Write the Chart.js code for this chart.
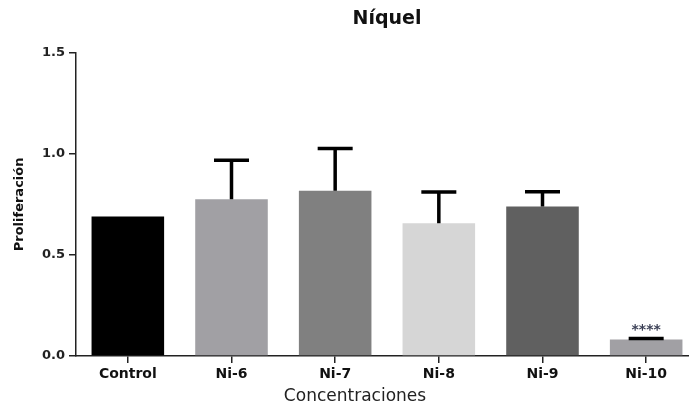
<!DOCTYPE html>
<html>
<head>
<meta charset="utf-8">
<script src="https://cdn.jsdelivr.net/npm/chart.js@4.4.0/dist/chart.umd.min.js"></script>
<style>
  html, body { margin: 0; padding: 0; background: #fff; overflow: hidden; }
  #wrap { width: 700px; height: 408px; }
</style>
</head>
<body>
<div id="wrap"><canvas id="chart"></canvas></div>
<script>
const categorias = ['Control', 'Ni-6', 'Ni-7', 'Ni-8', 'Ni-9', 'Ni-10'];
const proliferacion = [0.69, 0.775, 0.818, 0.657, 0.739, 0.082];
const errores = [0, 0.194, 0.209, 0.154, 0.074, 0.004];
const significancia = ['', '', '', '', '', '****'];
const colores = ['#000000', '#a1a0a4', '#808080', '#d6d6d6', '#606060', '#a1a0a4'];
const yTicks = [0, 0.5, 1.0, 1.5];

// error bars (upper only) and significance marks
const errorBars = {
  id: 'errorBars',
  afterDatasetsDraw(chart) {
    const ctx = chart.ctx;
    const meta = chart.getDatasetMeta(0);
    const y = chart.scales.y;
    ctx.save();
    ctx.strokeStyle = '#000';
    ctx.lineWidth = 3.5;
    meta.data.forEach((bar, i) => {
      const top = y.getPixelForValue(proliferacion[i] + errores[i]);
      if (errores[i] > 0) {
        ctx.beginPath();
        ctx.moveTo(bar.x, bar.y);
        ctx.lineTo(bar.x, top);
        ctx.moveTo(bar.x - 17.5, top);
        ctx.lineTo(bar.x + 17.5, top);
        ctx.stroke();
      }
      if (significancia[i]) {
        ctx.fillStyle = '#3a3f55';
        ctx.font = 'bold 14px "DejaVu Sans"';
        ctx.textAlign = 'center';
        ctx.textBaseline = 'middle';
        ctx.fillText(significancia[i], bar.x, top - 8);
      }
    });
    ctx.restore();
  }
};

// x axis title, sits a bit left of centre in the original
const xTitle = {
  id: 'xTitle',
  afterDraw(chart) {
    const ctx = chart.ctx;
    ctx.save();
    ctx.fillStyle = '#222';
    ctx.font = '17px "DejaVu Sans"';
    ctx.textAlign = 'center';
    ctx.textBaseline = 'middle';
    ctx.fillText('Concentraciones', 355, 397);
    ctx.restore();
  }
};

new Chart(document.getElementById('chart'), {
  type: 'bar',
  data: {
    labels: categorias,
    datasets: [{
      data: proliferacion,
      backgroundColor: colores,
      borderWidth: 0,
      barPercentage: 0.7,
      categoryPercentage: 1.0
    }]
  },
  options: {
    responsive: true,
    maintainAspectRatio: false,
    animation: false,
    layout: { padding: { top: 0, right: 2, left: 0, bottom: 0 } },
    plugins: {
      legend: { display: false },
      tooltip: { enabled: false },
      title: {
        display: true,
        fullSize: false,
        text: 'Níquel',
        color: '#111',
        font: { family: 'DejaVu Sans', size: 19, weight: 'bold' },
        padding: { top: 8, bottom: 22 }
      }
    },
    scales: {
      x: {
        afterFit(scale) { scale.height = 52; },
        grid: { display: true, offset: false, drawOnChartArea: false, drawTicks: true, tickLength: 7, color: '#222', lineWidth: 1.5 },
        border: { display: true, color: '#222', width: 1.5 },
        ticks: { color: '#111', padding: 3, font: { family: 'DejaVu Sans', size: 14, weight: 'bold' } }
      },
      y: {
        min: 0,
        max: 1.5,
        afterFit(scale) { scale.width = 76; },
        afterBuildTicks(scale) { scale.ticks = yTicks.map(v => ({ value: v })); },
        grid: { display: true, drawOnChartArea: false, drawTicks: true, tickLength: 7, color: '#222', lineWidth: 1.5 },
        border: { display: true, color: '#222', width: 1.5 },
        ticks: {
          color: '#222',
          padding: 4,
          font: { family: 'DejaVu Sans', size: 13, weight: 'bold' },
          callback: v => Number(v).toFixed(1)
        },
        title: {
          display: true,
          text: 'Proliferación',
          color: '#111',
          font: { family: 'DejaVu Sans', size: 13, weight: 'bold' },
          padding: { top: 12, bottom: 0 }
        }
      }
    }
  },
  plugins: [errorBars, xTitle]
});
</script>
</body>
</html>
